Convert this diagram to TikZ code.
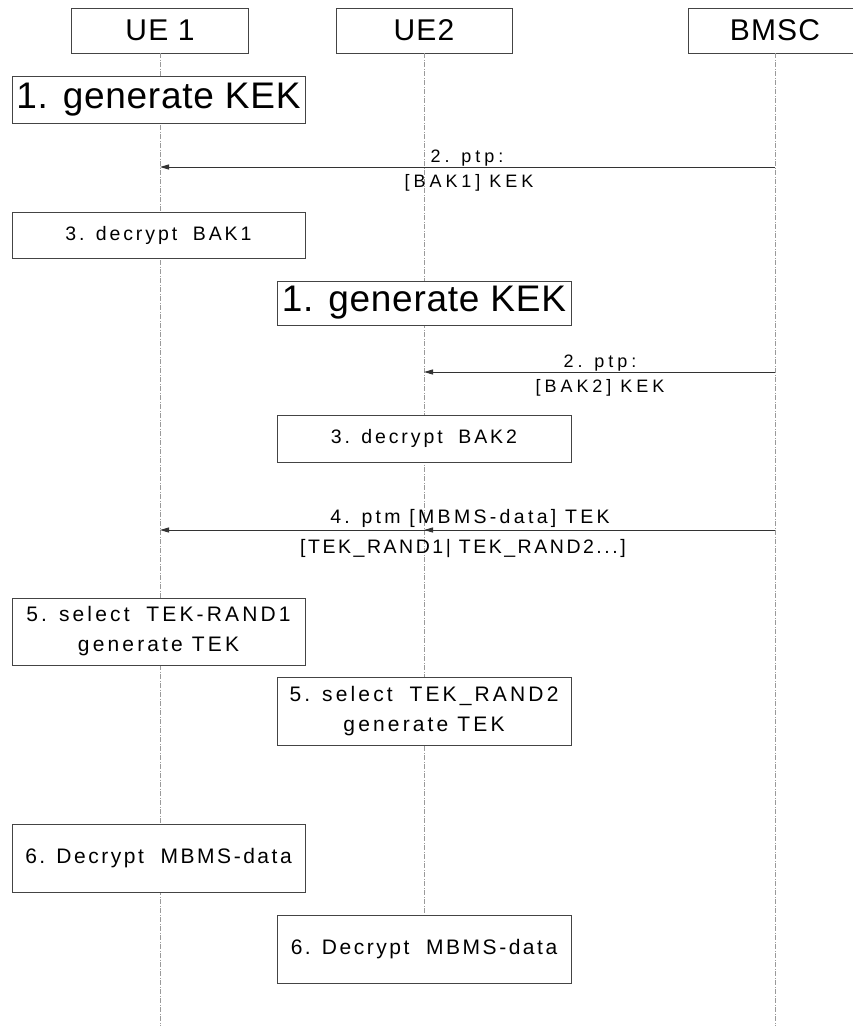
\documentclass[tikz,border=0pt]{standalone}
\usepackage{fontspec}
\setmainfont{Liberation Sans}
\usetikzlibrary{arrows.meta}
\definecolor{boxc}{HTML}{444444}
\definecolor{linec}{HTML}{333333}
\definecolor{lifec}{HTML}{9A9A9A}
\newcommand\lspace[1]{\addfontfeature{LetterSpace=#1}}
\newcommand\gap{\hspace{0.8em}}
\begin{document}
\begin{tikzpicture}[x=1pt,y=-1pt,
  hdr/.style={draw=boxc, fill=white, line width=0.8pt, inner sep=0pt, minimum height=45pt, font=\fontsize{30}{32}\selectfont\lspace{4}},
  actbox/.style={draw=boxc, fill=white, line width=0.8pt, inner sep=0pt, minimum width=293pt, align=center},
  life/.style={draw=lifec, line width=0.6pt, dash pattern=on 5pt off 1.5pt on 1pt off 1.5pt},
  msg/.style={draw=linec, line width=0.9pt, -{Triangle[length=9pt,width=5pt]}},
  lbl/.style={inner sep=0pt, anchor=base},
  big/.style={font=\fontsize{37}{39}\selectfont\lspace{2}},
  mid/.style={font=\fontsize{19.5}{29}\selectfont\lspace{15}},
  two/.style={font=\fontsize{21}{30}\selectfont\lspace{15}},
  sml/.style={font=\fontsize{18}{20}\selectfont\lspace{22}}
]
\clip (0,0) rectangle (853,1026);
\fill[white] (0,0) rectangle (853,1026);

% headers
\node[hdr, minimum width=177pt] (h1) at (160,30.5) {UE 1};
\node[hdr, minimum width=176pt] (h2) at (424,30.5) {UE2};
\node[hdr, minimum width=174pt] (h3) at (775,30.5) {BMSC};

% lifeline ends
\coordinate (e1) at (160,1026);
\coordinate (e3) at (775,1026);
\coordinate (e2) at (424,915);

\draw[life] (h1.south) -- (e1);
\draw[life] (h2.south) -- (e2);
\draw[life] (h3.south) -- (e3);

% action boxes
\node[actbox, big, minimum height=47pt] (k1) at (158.5,99.5) {1. generate KEK};
\node[actbox, mid, minimum height=46pt] (b1) at (158.5,235) {3. decrypt\gap BAK1};
\node[actbox, big, minimum height=44pt, minimum width=294pt] (k2) at (424,303) {1. generate KEK};
\node[actbox, mid, minimum height=47pt, minimum width=294pt] (b2) at (424,438.5) {3. decrypt\gap BAK2};
\node[actbox, two, minimum height=67pt] (s1) at (158.5,631.5) {5. select\gap TEK-RAND1\\generate TEK};
\node[actbox, two, minimum height=68pt, minimum width=294pt] (s2) at (424,711) {5. select\gap TEK\_RAND2\\generate TEK};
\node[actbox, font=\fontsize{21}{24}\selectfont\lspace{12}, minimum height=68pt] (d1) at (158.5,858) {6. Decrypt\gap MBMS-data};
\node[actbox, font=\fontsize{21}{24}\selectfont\lspace{12}, minimum height=68pt, minimum width=294pt] (d2) at (424,949) {6. Decrypt\gap MBMS-data};

% message end points
\coordinate (m1s) at (775,167);
\coordinate (m1e) at (160,167);
\coordinate (m2s) at (775,372);
\coordinate (m2e) at (424,372);
\coordinate (m4s) at (775,530);
\coordinate (m4a) at (424,530);
\coordinate (m4e) at (160,530);

\draw[msg] (m1s) -- (m1e);
\draw[msg] (m2s) -- (m2e);
\draw[msg] (m4s) -- (m4e);
\draw[msg] (m4s) -- (m4a);

% message labels
\node[lbl, sml] (t1a) at (467,162) {2. ptp:};
\node[lbl, sml] (t1b) at (469,187) {[BAK1] KEK};
\node[lbl, sml] (t2a) at (600,367) {2. ptp:};
\node[lbl, sml] (t2b) at (600,392) {[BAK2] KEK};
\node[lbl, font=\fontsize{19.5}{22}\selectfont\lspace{17}] (t4a) at (470,523) {4. ptm [MBMS-data] TEK};
\node[lbl, font=\fontsize{19.5}{22}\selectfont\lspace{13}] (t4b) at (463,553) {[TEK\_RAND1| TEK\_RAND2...]};
\end{tikzpicture}
\end{document}
